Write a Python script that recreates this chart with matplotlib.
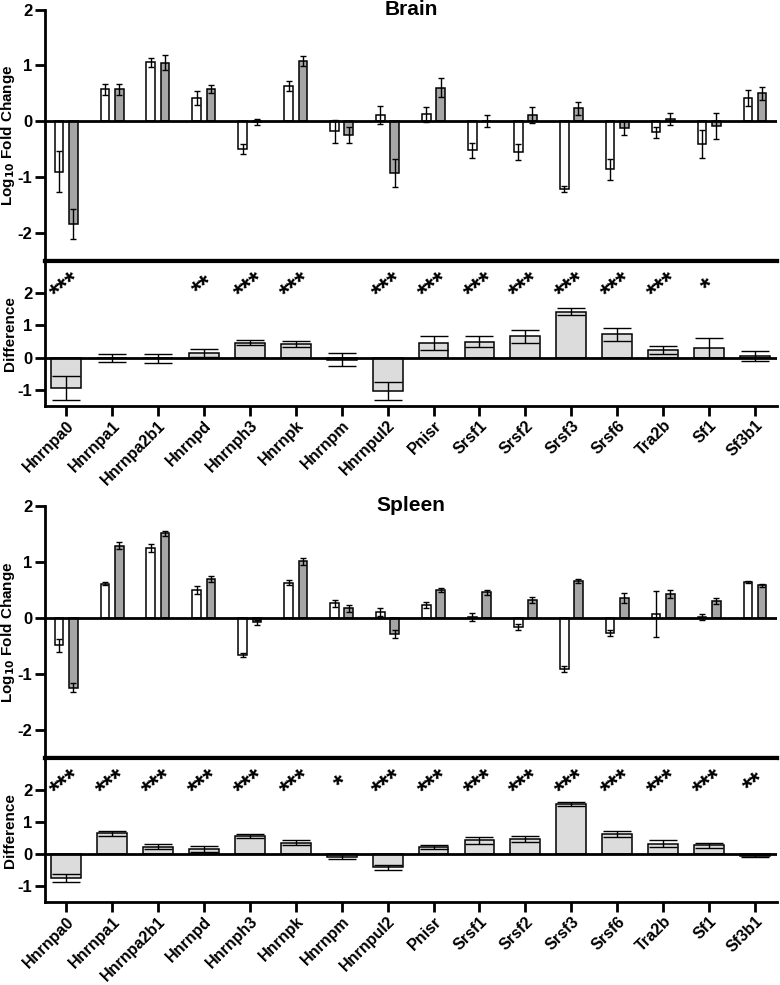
import numpy as np
import matplotlib
matplotlib.use("Agg")
import matplotlib.pyplot as plt

plt.rcParams['font.family'] = ['Liberation Sans', 'DejaVu Sans']
plt.rcParams['font.weight'] = 'bold'
plt.rcParams['mathtext.default'] = 'bf'
plt.rcParams['axes.unicode_minus'] = False

genes = ['Hnrnpa0', 'Hnrnpa1', 'Hnrnpa2b1', 'Hnrnpd', 'Hnrnph3', 'Hnrnpk', 'Hnrnpm', 'Hnrnpul2',
         'Pnisr', 'Srsf1', 'Srsf2', 'Srsf3', 'Srsf6', 'Tra2b', 'Sf1', 'Sf3b1']

# Brain
brain_white = [-0.90, 0.57, 1.06, 0.42, -0.50, 0.625, -0.18, 0.11,
               0.125, -0.52, -0.55, -1.21, -0.86, -0.20, -0.40, 0.42]
brain_white_err = [0.37, 0.10, 0.08, 0.125, 0.09, 0.09, 0.20, 0.16,
                   0.13, 0.14, 0.14, 0.06, 0.19, 0.09, 0.25, 0.14]
brain_grey = [-1.84, 0.57, 1.05, 0.58, -0.01, 1.08, -0.25, -0.92,
              0.60, 0.0, 0.11, 0.23, -0.12, 0.04, -0.08, 0.50]
brain_grey_err = [0.27, 0.10, 0.14, 0.07, 0.05, 0.09, 0.14, 0.25,
                  0.17, 0.11, 0.14, 0.11, 0.13, 0.10, 0.23, 0.11]
brain_diff = [-0.93, 0.0, -0.02, 0.15, 0.47, 0.43, -0.06, -1.04,
              0.45, 0.49, 0.66, 1.43, 0.73, 0.24, 0.30, 0.06]
brain_diff_err = [0.37, 0.12, 0.13, 0.12, 0.09, 0.10, 0.21, 0.27,
                  0.22, 0.17, 0.19, 0.12, 0.20, 0.13, 0.31, 0.15]
brain_stars = ['***', '', '', '**', '***', '***', '', '***',
               '***', '***', '***', '***', '***', '***', '*', '']

# Spleen
spleen_white = [-0.49, 0.61, 1.24, 0.50, -0.66, 0.63, 0.26, 0.11,
                0.23, 0.01, -0.16, -0.91, -0.27, 0.07, 0.01, 0.64]
spleen_white_err = [0.11, 0.03, 0.07, 0.07, 0.03, 0.045, 0.06, 0.07,
                    0.05, 0.07, 0.06, 0.05, 0.055, 0.41, 0.055, 0.02]
spleen_grey = [-1.24, 1.29, 1.51, 0.69, -0.08, 1.01, 0.17, -0.29,
               0.50, 0.46, 0.32, 0.66, 0.35, 0.42, 0.30, 0.58]
spleen_grey_err = [0.08, 0.06, 0.045, 0.05, 0.05, 0.06, 0.06, 0.07,
                   0.04, 0.045, 0.055, 0.04, 0.09, 0.07, 0.06, 0.03]
spleen_diff = [-0.74, 0.65, 0.23, 0.16, 0.57, 0.36, -0.09, -0.42,
               0.23, 0.43, 0.46, 1.56, 0.62, 0.33, 0.27, -0.05]
spleen_diff_err = [0.13, 0.08, 0.07, 0.08, 0.06, 0.07, 0.08, 0.09,
                   0.06, 0.10, 0.09, 0.07, 0.10, 0.12, 0.07, 0.03]
spleen_stars = ['***', '***', '***', '***', '***', '***', '*', '***',
                '***', '***', '***', '***', '***', '***', '***', '**']


def draw_tissue(fig, top_rect, diff_rect, title, white, white_err, grey, grey_err,
                diff, diff_err, stars):
    x = np.arange(len(genes))
    ax = fig.add_axes(top_rect)
    axd = fig.add_axes(diff_rect, sharex=ax)

    # fold change panel
    w = 0.19
    ax.bar(x - 0.155, white, w, color='white', edgecolor='black', linewidth=1.1,
           yerr=white_err, error_kw=dict(elinewidth=1, capsize=2.5, capthick=1))
    ax.bar(x + 0.155, grey, w, color='#a6a6a6', edgecolor='black', linewidth=1.1,
           yerr=grey_err, error_kw=dict(elinewidth=1, capsize=2.5, capthick=1))
    ax.axhline(0, color='black', linewidth=2, zorder=5)
    ax.set_ylim(-2.5, 2)
    ax.set_yticks([-2, -1, 0, 1, 2])
    ax.set_ylabel(r'Log$_{10}$ Fold Change', fontsize=11, fontweight='bold')
    ax.yaxis.set_label_coords(-0.038, 0.5)
    for s in ['top', 'right']:
        ax.spines[s].set_visible(False)
    ax.spines['bottom'].set_linewidth(3)
    ax.spines['left'].set_linewidth(2)
    ax.tick_params(axis='x', bottom=False, labelbottom=False)
    ax.tick_params(axis='y', direction='out', length=7, width=2, labelsize=12, pad=2)
    ax.text(0.5, 1.0, title, transform=ax.transAxes, ha='center', va='center',
            fontsize=15, fontweight='bold')

    # difference panel
    axd.bar(x, diff, 0.65, color='#dcdcdc', edgecolor='black', linewidth=1.1,
            yerr=diff_err, error_kw=dict(elinewidth=1, capsize=10, capthick=1))
    axd.axhline(0, color='black', linewidth=2, zorder=5)
    axd.set_ylim(-1.5, 3)
    axd.set_yticks([-1, 0, 1, 2])
    axd.set_ylabel('Difference', fontsize=11, fontweight='bold')
    axd.yaxis.set_label_coords(-0.038, 0.5)
    axd.spines['right'].set_visible(False)
    axd.spines['top'].set_linewidth(3)
    axd.spines['left'].set_linewidth(2)
    axd.spines['bottom'].set_linewidth(2)
    axd.tick_params(axis='y', direction='out', length=7, width=2, labelsize=12, pad=2)
    axd.tick_params(axis='x', direction='out', length=7, width=2, labelsize=11.5, pad=1.5)
    axd.set_xticks(x)
    axd.set_xticklabels(genes, rotation=45, ha='right', rotation_mode='anchor',
                        fontweight='bold')
    axd.set_xlim(-0.46, 15.48)
    for i, s in enumerate(stars):
        if s:
            axd.text(x[i], 2.2, s, ha='center', va='center', rotation=38,
                     fontsize=19, fontweight='bold')


fig = plt.figure(figsize=(7.8, 9.85), dpi=100)
draw_tissue(fig, [0.0577, 0.735, 0.9385, 0.2553], [0.0577, 0.5878, 0.9385, 0.1472],
            'Brain', brain_white, brain_white_err, brain_grey, brain_grey_err,
            brain_diff, brain_diff_err, brain_stars)
draw_tissue(fig, [0.0577, 0.2302, 0.9385, 0.2564], [0.0577, 0.0843, 0.9385, 0.1459],
            'Spleen', spleen_white, spleen_white_err, spleen_grey, spleen_grey_err,
            spleen_diff, spleen_diff_err, spleen_stars)
fig.savefig('out.png', dpi=100)
